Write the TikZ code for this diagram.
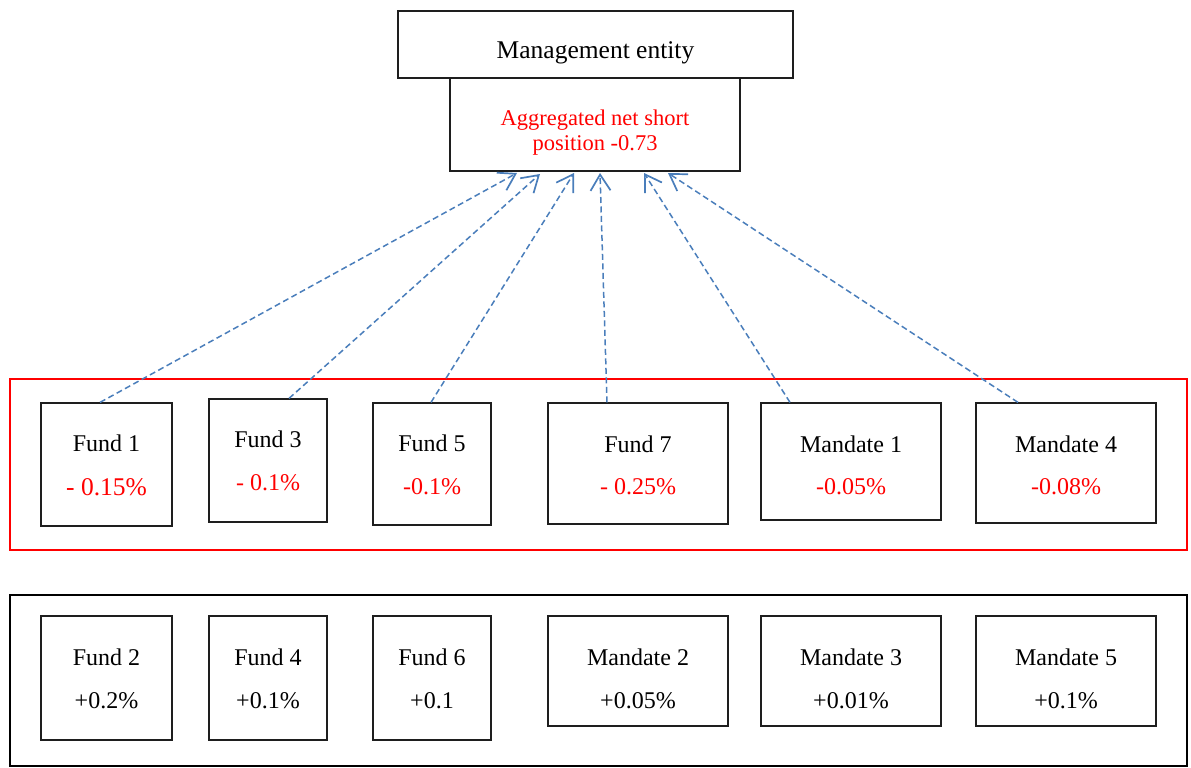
\documentclass[tikz,border=0pt]{standalone}
\usepackage{fontspec}
\setmainfont{Liberation Serif}
\usetikzlibrary{arrows.meta}
\definecolor{arrowblue}{RGB}{74,126,187}
\definecolor{boxgray}{RGB}{30,30,30}
\begin{document}
\begin{tikzpicture}[x=1pt,y=-1pt,
  box/.style={draw=boxgray,line width=1.2pt,fill=white,inner sep=0pt},
  lbl/.style={anchor=base,inner sep=0pt,font=\fontsize{24}{28}\selectfont},
  neg/.style={lbl,text=red},
  group/.style={line width=2pt},
  link/.style={draw=arrowblue,line width=1.5pt,dash pattern=on 6pt off 3.5pt,
    -{Straight Barb[length=16pt,width=20pt,line width=1.7pt]}}
]
\useasboundingbox (0,0) rectangle (1191,768);
% group frames
\draw[group,draw=red] (10,379) rectangle (1187,550);
\draw[group,draw=black] (10,595) rectangle (1187,766);

% top boxes
\node[box,minimum width=395pt,minimum height=67pt] (mgmt) at (595.5,44.5) {};
\node[lbl,font=\fontsize{25.5}{30}\selectfont] (mgmtt) at (595.5,59) {Management entity};
\node[box,minimum width=290pt,minimum height=93pt] (agg) at (595,124.5) {};
\node[neg,font=\fontsize{22.5}{25}\selectfont] (agga) at (595,125) {Aggregated net short};
\node[neg,font=\fontsize{22.5}{25}\selectfont] (aggb) at (595,150) {position -0.73};

% red row
\node[box,minimum width=131pt,minimum height=123pt] (f1) at (106.5,464.5) {};
\node[box,minimum width=118pt,minimum height=123pt] (f3) at (268,460.5) {};
\node[box,minimum width=118pt,minimum height=122pt] (f5) at (432,464) {};
\node[box,minimum width=180pt,minimum height=121pt] (f7) at (638,463.5) {};
\node[box,minimum width=180pt,minimum height=117pt] (m1) at (851,461.5) {};
\node[box,minimum width=180pt,minimum height=120pt] (m4) at (1066,463) {};
\node[lbl] (f1a) at (106.5,451) {Fund 1};
\node[neg,font=\fontsize{25.5}{28}\selectfont] (f1b) at (106.5,495) {- 0.15\%};
\node[lbl] (f3a) at (268,447) {Fund 3};
\node[neg] (f3b) at (268,490) {- 0.1\%};
\node[lbl] (f5a) at (432,451) {Fund 5};
\node[neg] (f5b) at (432,494) {-0.1\%};
\node[lbl] (f7a) at (638,452) {Fund 7};
\node[neg] (f7b) at (638,494) {- 0.25\%};
\node[lbl] (m1a) at (851,452) {Mandate 1};
\node[neg] (m1b) at (851,494) {-0.05\%};
\node[lbl] (m4a) at (1066,452) {Mandate 4};
\node[neg] (m4b) at (1066,494) {-0.08\%};

% black row
\node[box,minimum width=131pt,minimum height=124pt] (f2) at (106.5,678) {};
\node[box,minimum width=118pt,minimum height=124pt] (f4) at (268,678) {};
\node[box,minimum width=118pt,minimum height=124pt] (f6) at (432,678) {};
\node[box,minimum width=180pt,minimum height=110pt] (m2) at (638,671) {};
\node[box,minimum width=180pt,minimum height=110pt] (m3) at (851,671) {};
\node[box,minimum width=180pt,minimum height=110pt] (m5) at (1066,671) {};
\node[lbl] (f2a) at (106.5,665) {Fund 2};
\node[lbl] (f2b) at (106.5,708) {+0.2\%};
\node[lbl] (f4a) at (268,665) {Fund 4};
\node[lbl] (f4b) at (268,708) {+0.1\%};
\node[lbl] (f6a) at (432,665) {Fund 6};
\node[lbl] (f6b) at (432,708) {+0.1};
\node[lbl] (m2a) at (638,665) {Mandate 2};
\node[lbl] (m2b) at (638,708) {+0.05\%};
\node[lbl] (m3a) at (851,665) {Mandate 3};
\node[lbl] (m3b) at (851,708) {+0.01\%};
\node[lbl] (m5a) at (1066,665) {Mandate 5};
\node[lbl] (m5b) at (1066,708) {+0.1\%};

% arrows
\coordinate (e1) at (517,173);
\coordinate (e3) at (540,174);
\coordinate (e5) at (574,173);
\coordinate (e7) at (600,173);
\coordinate (e9) at (644,173);
\coordinate (e11) at (668,173);
\draw[link] ([xshift=-6.5pt]f1.north) -- (e1);
\draw[link] ([xshift=21pt]f3.north) -- (e3);
\draw[link] ([xshift=-1pt]f5.north) -- (e5);
\draw[link] ([xshift=-31pt]f7.north) -- (e7);
\draw[link] ([xshift=-61pt]m1.north) -- (e9);
\draw[link] ([xshift=-48pt]m4.north) -- (e11);
\end{tikzpicture}
\end{document}
